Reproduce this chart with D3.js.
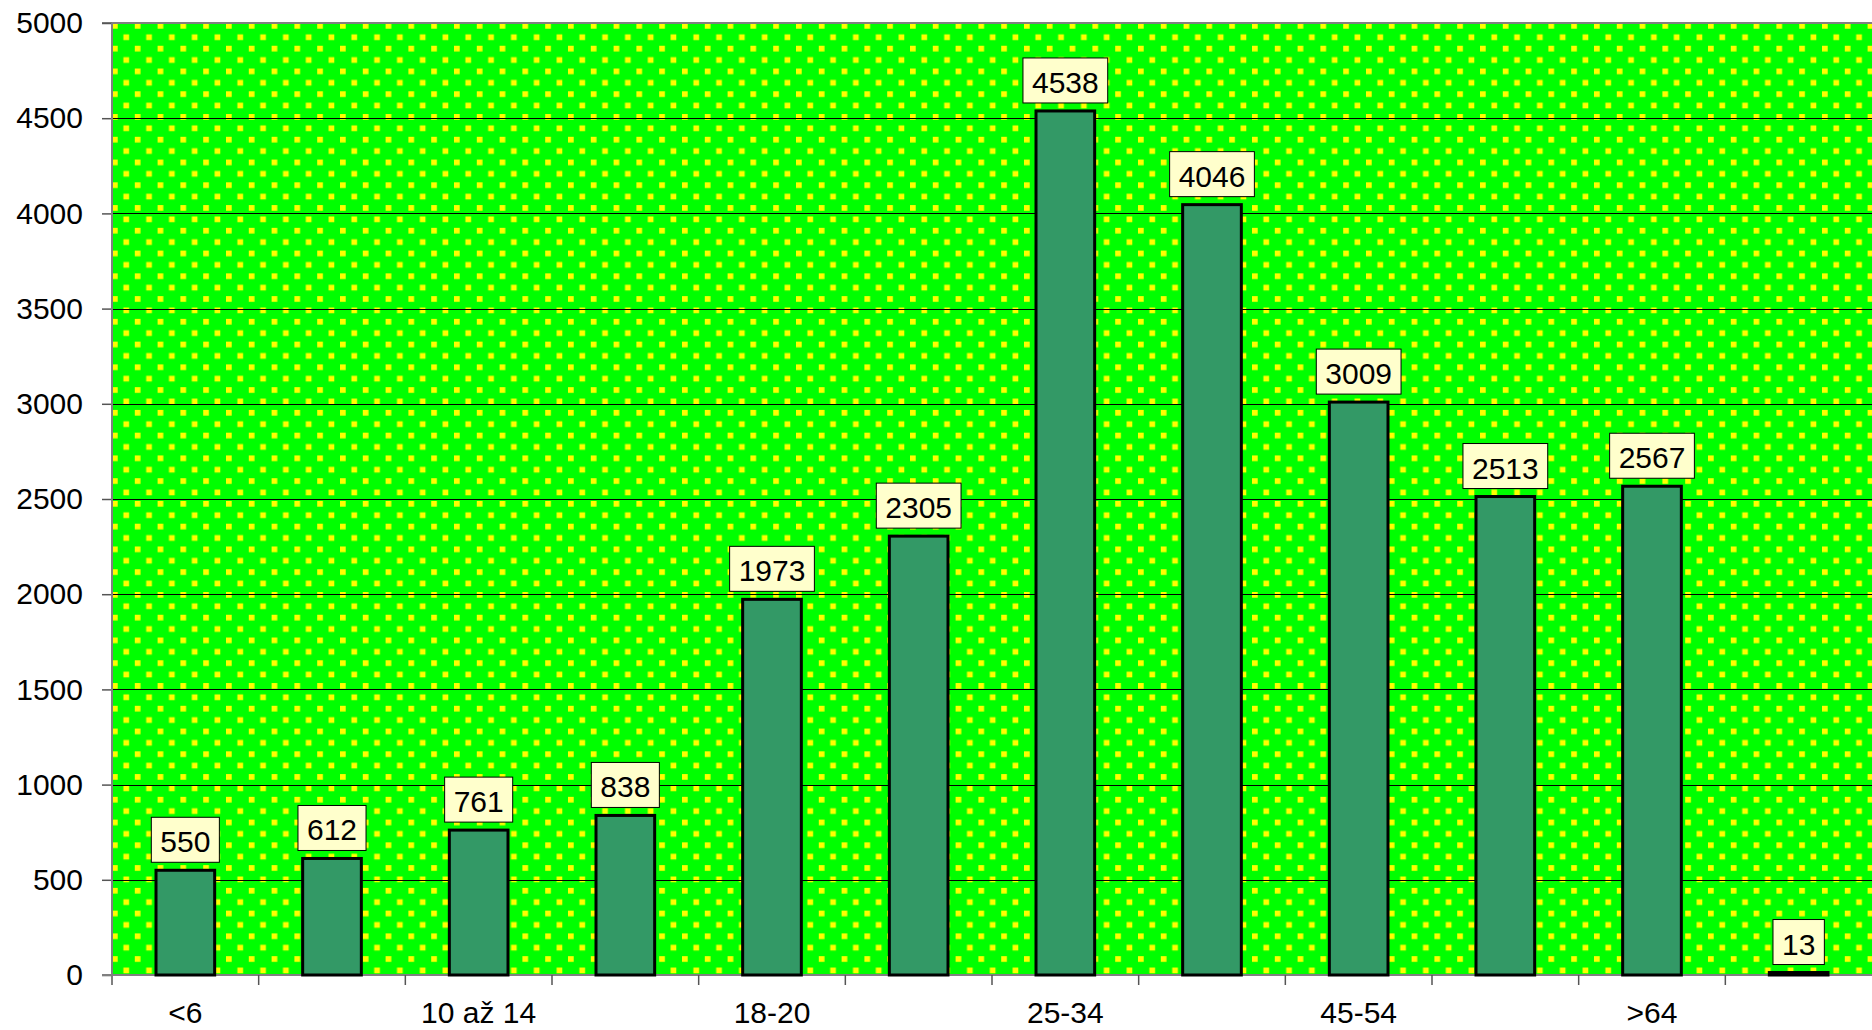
<!DOCTYPE html>
<html>
<head>
	<meta charset="utf-8">
	<title></title>
	<script src="https://d3js.org/d3.v7.min.js"></script>
	<style>
		body { margin: 0; background: #fff; }
		text { font-family: "Liberation Sans", Arial, sans-serif; }
	</style>
</head>
<body>

<script>

// age groups (only every second one is labelled on the axis)
var categories = ["<6", "6-9", "10 až 14", "15-17", "18-20", "21-24", "25-34", "35-44", "45-54", "55-64", ">64", "neuvedeno"]
var values = [550, 612, 761, 838, 1973, 2305, 4538, 4046, 3009, 2513, 2567, 13]
var yTicks = [0, 500, 1000, 1500, 2000, 2500, 3000, 3500, 4000, 4500, 5000]

var width = 1872
var height = 1030
var plotLeft = 112, plotRight = 1872, plotTop = 23, plotBottom = 975

var svg = d3.select('body').append('svg')
	.attr('width', width)
	.attr('height', height)

// dotted green background
var defs = svg.append('defs')
var pat = defs.append('pattern')
	.attr('id', 'dots')
	.attr('patternUnits', 'userSpaceOnUse')
	.attr('x', 112).attr('y', 23)
	.attr('width', 22.8).attr('height', 22.76)
pat.append('rect').attr('width', 22.8).attr('height', 22.76).attr('fill', '#00ff00')
pat.append('rect').attr('x', 0).attr('y', 0).attr('width', 5.7).attr('height', 5.7).attr('fill', '#ffff00')
pat.append('rect').attr('x', 11.4).attr('y', 11.4).attr('width', 5.7).attr('height', 5.7).attr('fill', '#ffff00')

var x = d3.scaleBand()
	.domain(categories)
	.range([plotLeft, plotRight])
	.padding(0)

var y = d3.scaleLinear()
	.domain([0, 5000])
	.range([plotBottom, plotTop])

svg.append('rect')
	.attr('x', plotLeft).attr('y', plotTop)
	.attr('width', plotRight - plotLeft).attr('height', plotBottom - plotTop)
	.attr('fill', 'url(#dots)')

// gridlines
svg.append('g').selectAll('line')
	.data(yTicks.filter(function(d) { return d > 0 && d < 5000 }))
	.enter().append('line')
	.attr('x1', plotLeft).attr('x2', plotRight)
	.attr('y1', function(d) { return Math.round(y(d)) + 0.5 })
	.attr('y2', function(d) { return Math.round(y(d)) + 0.5 })
	.attr('stroke', '#000')
	.attr('stroke-width', 1)

// top border
svg.append('line')
	.attr('x1', plotLeft - 10).attr('x2', plotRight)
	.attr('y1', y(5000)).attr('y2', y(5000))
	.attr('stroke', '#808080').attr('stroke-width', 2)

// y axis
var yAxis = d3.axisLeft(y)
	.tickValues(yTicks)
	.tickFormat(d3.format('d'))
	.tickSize(10)
	.tickPadding(19)
var gy = svg.append('g')
	.attr('transform', 'translate(' + plotLeft + ',0)')
	.call(yAxis)
gy.select('.domain').remove()
gy.selectAll('.tick line').attr('stroke', '#555').attr('stroke-width', 1.5)
gy.selectAll('text')
	.attr('font-size', 30)
	.attr('fill', '#000')
	.attr('font-family', '"Liberation Sans", Arial, sans-serif')

// axis lines
svg.append('line')
	.attr('x1', plotLeft).attr('x2', plotLeft)
	.attr('y1', plotTop).attr('y2', plotBottom + 10)
	.attr('stroke', '#808080').attr('stroke-width', 2)
svg.append('line')
	.attr('x1', plotLeft - 10).attr('x2', plotRight)
	.attr('y1', plotBottom).attr('y2', plotBottom)
	.attr('stroke', '#808080').attr('stroke-width', 2)

// bars
svg.append('g').selectAll('rect')
	.data(values)
	.enter().append('rect')
	.attr('x', function(d, i) { return x(categories[i]) + x.bandwidth() * 0.3 })
	.attr('width', x.bandwidth() * 0.4)
	.attr('y', function(d) { return y(d) })
	.attr('height', function(d) { return plotBottom - y(d) })
	.attr('fill', '#339966')
	.attr('stroke', '#000')
	.attr('stroke-width', 3)

// x ticks between categories
svg.append('g').selectAll('line')
	.data(categories.slice(1))
	.enter().append('line')
	.attr('x1', function(d) { return x(d) }).attr('x2', function(d) { return x(d) })
	.attr('y1', plotBottom).attr('y2', plotBottom + 10)
	.attr('stroke', '#555').attr('stroke-width', 1.5)

// x labels, every second category
var xAxis = d3.axisBottom(x)
	.tickSize(0)
	.tickPadding(0)
	.tickFormat(function(d, i) { return i % 2 === 0 ? d : '' })
var gx = svg.append('g')
	.attr('transform', 'translate(0,' + plotBottom + ')')
	.call(xAxis)
gx.select('.domain').remove()
gx.selectAll('text')
	.attr('y', 48)
	.attr('dy', 0)
	.attr('font-size', 30)
	.attr('fill', '#000')
	.attr('font-family', '"Liberation Sans", Arial, sans-serif')

// value labels in boxes
var lab = svg.append('g').selectAll('g')
	.data(values)
	.enter().append('g')

lab.each(function(d, i) {
	var g = d3.select(this)
	var cx = x(categories[i]) + x.bandwidth() / 2
	var boxBottom = y(d) - 8
	var rect = g.append('rect')
	var t = g.append('text')
		.attr('x', cx)
		.attr('y', boxBottom - 10)
		.attr('text-anchor', 'middle')
		.attr('font-size', 30)
		.attr('fill', '#000')
		.text(d)
	var w = t.node().getComputedTextLength() + 18
	rect.attr('x', cx - w / 2)
		.attr('y', boxBottom - 45)
		.attr('width', w)
		.attr('height', 45)
		.attr('fill', '#ffffcc')
		.attr('stroke', '#000')
		.attr('stroke-width', 1)
})

</script>

</body>
</html>
